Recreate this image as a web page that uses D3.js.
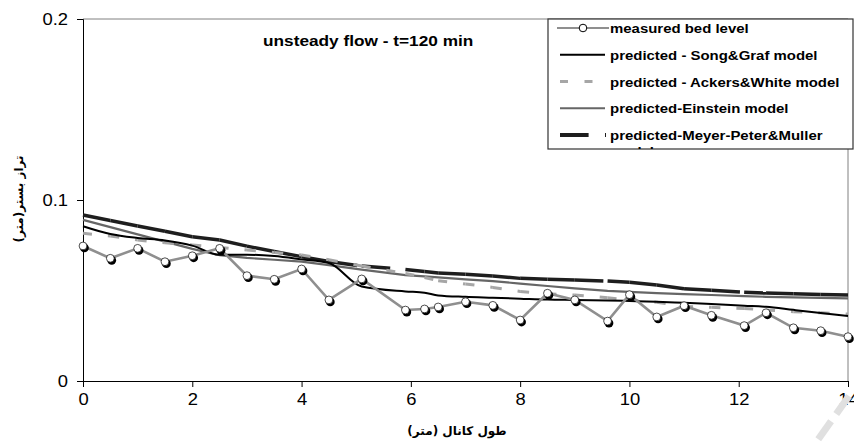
<!DOCTYPE html>
<html>
<head>
<meta charset="utf-8">
<script src="https://cdn.jsdelivr.net/npm/d3@7"></script>
<style>
  body { margin: 0; background: #fff; }
  svg { display: block; }
</style>
</head>
<body>
<svg id="chart" width="854" height="442"></svg>
<script>
// Bed level along the channel, unsteady flow at t = 120 min
const distance = [0, 0.5, 1, 1.5, 2, 2.5, 3, 3.5, 4, 4.5, 5.1, 5.9, 6.25, 6.5, 7, 7.5, 8, 8.5, 9, 9.6, 10, 10.5, 11, 11.5, 12.1, 12.5, 13, 13.5, 14];
const measured = [0.0746, 0.0678, 0.0733, 0.0659, 0.0692, 0.0733, 0.0582, 0.0562, 0.0619, 0.0448, 0.0564, 0.0392, 0.0398, 0.0409, 0.0438, 0.0418, 0.0337, 0.0485, 0.0448, 0.0331, 0.0477, 0.0354, 0.0416, 0.0363, 0.0306, 0.0377, 0.0294, 0.0278, 0.0245];
const songGraf = [0.0855, 0.0812, 0.0790, 0.0776, 0.0748, 0.0697, 0.0698, 0.0690, 0.0672, 0.0652, 0.0522, 0.0495, 0.0488, 0.0473, 0.0465, 0.0460, 0.0455, 0.0450, 0.0448, 0.0445, 0.0442, 0.0438, 0.0432, 0.0426, 0.0416, 0.0410, 0.0393, 0.0376, 0.0359];
const ackersWhite = [0.0816, 0.0801, 0.0779, 0.0764, 0.0751, 0.0738, 0.0724, 0.0710, 0.0696, 0.0670, 0.0635, 0.0594, 0.0572, 0.0554, 0.0536, 0.0517, 0.0495, 0.0482, 0.0475, 0.0460, 0.0448, 0.0435, 0.0412, 0.0407, 0.0401, 0.0392, 0.0383, 0.0377, 0.0370];
const einstein = [0.0890, 0.0850, 0.0810, 0.0770, 0.0730, 0.0695, 0.0680, 0.0670, 0.0660, 0.0640, 0.0615, 0.0585, 0.0578, 0.0573, 0.0562, 0.0552, 0.0538, 0.0525, 0.0512, 0.0498, 0.0492, 0.0486, 0.0480, 0.0475, 0.0469, 0.0465, 0.0462, 0.0459, 0.0457];
const meyerPeter = [0.0917, 0.0887, 0.0856, 0.0827, 0.0797, 0.0779, 0.0745, 0.0715, 0.0687, 0.0660, 0.0635, 0.0616, 0.0605, 0.0597, 0.0590, 0.0580, 0.0567, 0.0562, 0.0558, 0.0552, 0.0545, 0.0530, 0.0510, 0.0502, 0.0490, 0.0486, 0.0482, 0.0478, 0.0475];

const xTicks = [0, 2, 4, 6, 8, 10, 12, 14];
const yTicks = [0, 0.1, 0.2];
const yTickLabels = ["0", "0.1", "0.2"];

const chartTitle = "unsteady flow - t=120 min";
const xTitle = "طول كانال (متر)";
const yTitle = "تراز بستر(متر)";
const legendNames = [
  "measured bed level",
  "predicted - Song&Graf model",
  "predicted - Ackers&White model",
  "predicted-Einstein model",
  "predicted-Meyer-Peter&Muller",
  "model"
];

// Layout and style
const W = 854, H = 442;
const margin = { top: 19, right: 6, bottom: 61, left: 83 };
const SX = 1.15; // horizontal stretch of Latin text
const latin = "'Liberation Sans', Arial, sans-serif";
const arabic = "'DejaVu Sans', 'Noto Sans', sans-serif";

const svg = d3.select("#chart");

const x = d3.scaleLinear().domain([0, 14]).range([margin.left, W - margin.right]);
const y = d3.scaleLinear().domain([0, 0.2]).range([H - margin.bottom, margin.top]);

// Plot frame (top and right edges)
svg.append("path")
  .attr("d", `M${x(0)},${y(0.2)}H${x(14)}V${y(0)}`)
  .attr("fill", "none").attr("stroke", "#808080").attr("stroke-width", 1);

// Axes
const yAxis = d3.axisLeft(y).tickValues(yTicks).tickSize(6).tickPadding(7)
  .tickFormat((d, i) => yTickLabels[i]);
const xAxis = d3.axisBottom(x).tickValues(xTicks).tickSize(6).tickPadding(7)
  .tickFormat(d3.format("d"));

const gy = svg.append("g").attr("transform", `translate(${margin.left},0)`).call(yAxis);
const gx = svg.append("g").attr("transform", `translate(0,${H - margin.bottom})`).call(xAxis);
[gx, gy].forEach(g => {
  g.select(".domain").attr("stroke", "#000");
  g.selectAll(".tick line").attr("stroke", "#000");
  g.selectAll(".tick text")
    .attr("fill", "#000")
    .style("font-family", latin)
    .style("font-size", "16px")
    .attr("transform", `scale(${SX},1)`);
});
// keep the stretched y labels' right edge just left of the ticks
gy.selectAll(".tick text").attr("x", -15 / SX);

// Series geometry
const pts = vals => distance.map((d, i) => [x(d), y(vals[i])]);
const straight = d3.line();
const smooth = d3.line().curve(d3.curveMonotoneX);

// Dashed series restart their dash pattern on each segment
function segmented(vals, stroke, width, dash) {
  const g = svg.append("g");
  d3.pairs(pts(vals)).forEach(seg => {
    g.append("path")
      .attr("d", straight(seg))
      .attr("fill", "none")
      .attr("stroke", stroke)
      .attr("stroke-width", width)
      .attr("stroke-dasharray", dash);
  });
}

// Einstein
svg.append("path").attr("d", straight(pts(einstein)))
  .attr("fill", "none").attr("stroke", "#666").attr("stroke-width", 2.2);
// Meyer-Peter & Muller
segmented(meyerPeter, "#1e1e1e", 3.5, "28.6,16.4");
// Ackers & White
segmented(ackersWhite, "#a6a6a6", 3, "9,16");
// Song & Graf
svg.append("path").attr("d", smooth(pts(songGraf)))
  .attr("fill", "none").attr("stroke", "#000").attr("stroke-width", 2);

// Measured bed level
svg.append("path").attr("d", straight(pts(measured)))
  .attr("fill", "none").attr("stroke", "#8f8f8f").attr("stroke-width", 2.6);
const mk = svg.append("g");
pts(measured).forEach(([px, py]) => {
  mk.append("circle").attr("cx", px + 1.4).attr("cy", py + 2).attr("r", 4.4).attr("fill", "#000");
  mk.append("circle").attr("cx", px).attr("cy", py).attr("r", 3.9)
    .attr("fill", "#fff").attr("stroke", "#000").attr("stroke-width", 0.7);
});

// Stretched Latin text helper
function label(parent, tx, ty, str, size, weight, anchor) {
  return parent.append("g")
    .attr("transform", `translate(${tx},${ty}) scale(${SX},1)`)
    .append("text")
    .attr("text-anchor", anchor || "start")
    .style("font-family", latin)
    .style("font-size", size + "px")
    .style("font-weight", weight)
    .attr("fill", "#000")
    .text(str);
}

// Chart title
label(svg, 263, 46, chartTitle, 15, "bold");

// Axis titles
svg.append("text")
  .attr("x", 457).attr("y", 435)
  .attr("text-anchor", "middle")
  .style("font-family", arabic).style("font-size", "12px").style("font-weight", "bold")
  .attr("direction", "rtl")
  .text(xTitle);
svg.append("text")
  .attr("transform", "translate(23,199) rotate(-90)")
  .attr("text-anchor", "middle")
  .style("font-family", arabic).style("font-size", "12px").style("font-weight", "bold")
  .attr("direction", "rtl")
  .text(yTitle);

// Legend
const lg = { x: 548, y: 19, w: 305, h: 130 };
svg.append("defs").append("clipPath").attr("id", "legend-clip")
  .append("rect").attr("x", lg.x).attr("y", lg.y).attr("width", lg.w).attr("height", lg.h);
svg.append("rect").attr("x", lg.x).attr("y", lg.y).attr("width", lg.w).attr("height", lg.h)
  .attr("fill", "#fff").attr("stroke", "#333").attr("stroke-width", 1.2);
const leg = svg.append("g").attr("clip-path", "url(#legend-clip)");
const rowY = i => 33 + i * 26.75;
const symY = i => rowY(i) - 5;
const sx0 = 560, sx1 = 605;

// measured
leg.append("line").attr("x1", 557).attr("x2", 609).attr("y1", symY(0)).attr("y2", symY(0))
  .attr("stroke", "#8f8f8f").attr("stroke-width", 2.2);
leg.append("circle").attr("cx", 583).attr("cy", symY(0)).attr("r", 3.8)
  .attr("fill", "#fff").attr("stroke", "#000").attr("stroke-width", 1);
// Song & Graf
leg.append("line").attr("x1", sx0).attr("x2", sx1).attr("y1", symY(1)).attr("y2", symY(1))
  .attr("stroke", "#000").attr("stroke-width", 2);
// Ackers & White
leg.append("line").attr("x1", sx0).attr("x2", sx1).attr("y1", symY(2)).attr("y2", symY(2))
  .attr("stroke", "#a6a6a6").attr("stroke-width", 3).attr("stroke-dasharray", "8,16.5");
// Einstein
leg.append("line").attr("x1", sx0).attr("x2", sx1).attr("y1", symY(3)).attr("y2", symY(3))
  .attr("stroke", "#666").attr("stroke-width", 2.2);
// Meyer-Peter & Muller
leg.append("line").attr("x1", sx0).attr("x2", 606).attr("y1", symY(4)).attr("y2", symY(4))
  .attr("stroke", "#1e1e1e").attr("stroke-width", 4).attr("stroke-dasharray", "28.6,16.4");

legendNames.forEach((name, i) => {
  const ty = i < 5 ? rowY(i) : rowY(4) + 16;
  label(leg, 610, ty, name, 13, "bold");
});

// Light grey streak near the lower right corner
svg.append("line")
  .attr("x1", 849).attr("y1", 396).attr("x2", 812).attr("y2", 448)
  .attr("stroke", "#e0e0e0").attr("stroke-width", 7).attr("stroke-dasharray", "22,9");
</script>
</body>
</html>
